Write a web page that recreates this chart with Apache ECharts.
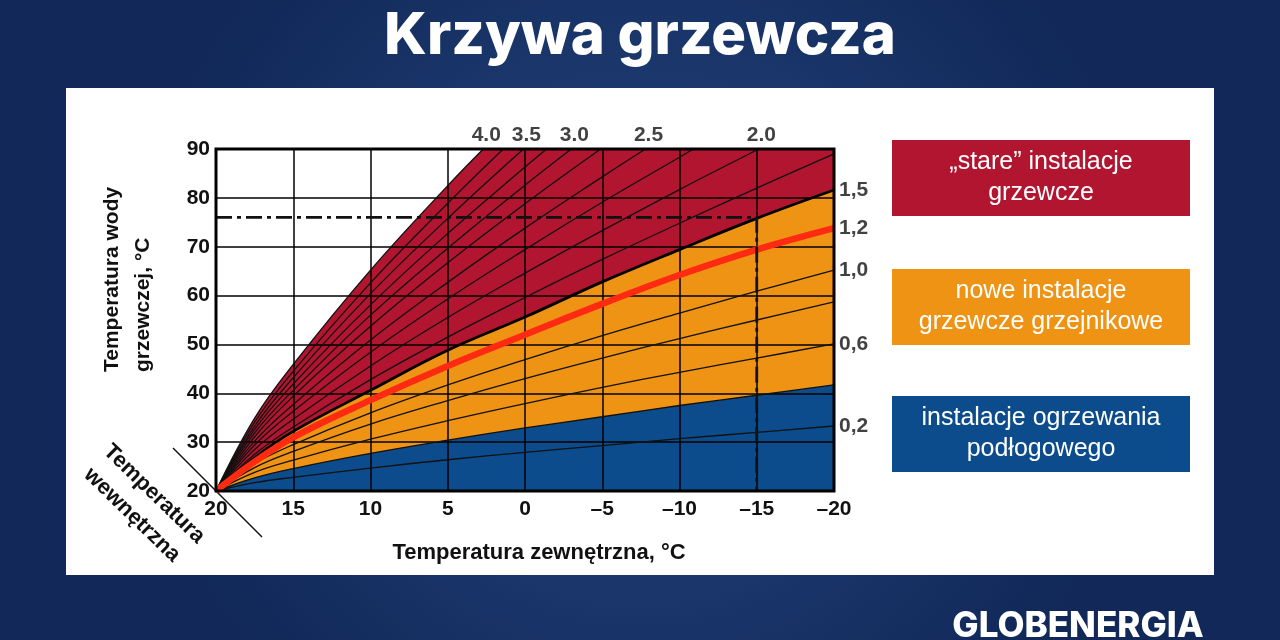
<!DOCTYPE html>
<html><head><meta charset="utf-8">
<script src="https://cdn.jsdelivr.net/npm/echarts@6.0.0/dist/echarts.min.js"></script>
<style>html,body{margin:0;padding:0;background:#152e5c;}#main{width:1280px;height:640px;}</style>
</head><body><div id="main"></div>
<script>
// ---- data ----
const outdoorTemp = [20, 17.5, 15, 10, 5, 0, -5, -10, -15, -20];
const yMin = 20, yMax = 90;
// full-length curves (supply temperature at each outdoorTemp)
const curve02  = [20, 21.7, 22.8, 24.7, 26.4, 27.9, 29.3, 30.7, 32.0, 33.3];
const curve04  = [20, 22.7, 24.6, 27.7, 30.4, 32.9, 35.2, 37.5, 39.6, 41.7];
const curve06  = [20, 23.8, 26.3, 30.6, 34.4, 37.9, 41.2, 44.3, 47.2, 50.1];
const curve08  = [20, 24.8, 28.1, 33.7, 38.5, 43.0, 47.2, 51.2, 55.0, 58.7];
const curve10  = [20, 25.6, 29.5, 36.0, 41.7, 46.9, 51.8, 56.4, 60.9, 65.2];
const curve12  = [20, 26.0, 31.0, 38.6, 45.6, 52.0, 58.3, 64.2, 69.4, 73.8];
const curve15  = [20, 26.8, 32.2, 40.6, 48.8, 55.6, 62.8, 69.4, 75.8, 81.6];
const curve175 = [20, 27.5, 33.1, 42.8, 51.5, 59.6, 67.4, 74.8, 82.0, 89.0];
// steep curves: values until they leave the chart, then outdoor temp where they reach 90
const curve20  = [20, 28.5, 34.7, 45.6, 55.5, 64.6, 73.3, 81.7, 89.8]; const hit20 = -15.1;
const curve225 = [20, 29.4, 36.3, 48.4, 59.3, 69.4, 79.1, 88.3];       const hit225 = -10.9;
const curve25  = [20, 30.2, 37.7, 50.9, 62.7, 73.8, 84.3];             const hit25 = -7.8;
const curve275 = [20, 31.1, 39.4, 53.7, 66.7, 78.8];                   const hit275 = -4.9;
const curve30  = [20, 31.9, 40.6, 56.0, 69.7, 82.6];                   const hit30 = -3.0;
const curve325 = [20, 32.6, 41.9, 58.1, 72.7, 86.3];                   const hit325 = -1.4;
const curve35  = [20, 33.3, 43.2, 60.4, 75.8];                         const hit35 = 0.1;
const curve375 = [20, 34.1, 44.5, 62.6, 78.9];                         const hit375 = 1.4;
const curve40  = [20, 34.9, 45.9, 65.2, 82.5];                         const hit40 = 2.7;
// design point (dash-dot)
const designOutdoor = -15, designSupply = 76;
// labels
const rightLabelNames = ['1,5', '1,2', '1,0', '0,6', '0,2'];
const topLabelNames = ['4.0', '3.5', '3.0', '2.5', '2.0'];
const legendTexts = ['\u201Estare\u201D instalacje\ngrzewcze', 'nowe instalacje\ngrzewcze grzejnikowe', 'instalacje ogrzewania\npod\u0142ogowego'];

// ---- styling ----
const F = '"Liberation Sans", Arial, sans-serif';
const RED = '#B1152F', ORANGE = '#EE9313', BLUE = '#0C4C8C';

function pairs(vals, hitX) {
  const p = vals.map((v, i) => [outdoorTemp[i], v]);
  if (hitX != null) p.push([hitX, yMax]);
  return p;
}
function areaSeries(data, color, z, smooth) {
  return { type: 'line', data, z, symbol: 'none', smooth: smooth, silent: true,
    lineStyle: { width: 0, opacity: 0 }, areaStyle: { color, opacity: 1, origin: 'start' } };
}
function lineSeries(data, width, color, z) {
  return { type: 'line', data, z, symbol: 'none', smooth: 0.4, silent: true,
    lineStyle: { width, color } };
}

const thin = [
  pairs(curve02), pairs(curve04), pairs(curve06), pairs(curve08), pairs(curve10), pairs(curve175),
  pairs(curve20, hit20), pairs(curve225, hit225), pairs(curve25, hit25), pairs(curve275, hit275),
  pairs(curve30, hit30), pairs(curve325, hit325), pairs(curve35, hit35), pairs(curve375, hit375), pairs(curve40, hit40)
];

// red envelope: under the steepest curve and along the top edge (one polygon, no seam)
const redEnvelope = pairs(curve40, hit40).concat([[-20, yMax]]);

const series = [
  areaSeries(redEnvelope, RED, 1, false),
  areaSeries(pairs(curve40, hit40), RED, 1, 0.4),
  areaSeries(pairs(curve15), ORANGE, 2, 0.4),
  areaSeries(pairs(curve04), BLUE, 3, 0.4),
];
thin.forEach(d => series.push(lineSeries(d, 1.3, '#111', 5)));
series.push(lineSeries(pairs(curve15), 2.8, '#000', 5));
series.push(lineSeries(pairs(curve12), 6.5, '#FF2A12', 6));
series.push({ type: 'line', z: 6, symbol: 'none', silent: true,
  data: [[20, designSupply], [designOutdoor, designSupply], [designOutdoor, yMin]],
  lineStyle: { width: 2.8, color: '#111', type: [16, 5, 4, 5] } });

const rightEnds = [curve15, curve12, curve10, curve06, curve02].map(c => c[c.length - 1]);
const topHits = [hit40, hit35, hit30, hit25, hit20];
series.push({ type: 'scatter', z: 8, clip: false, symbolSize: 0, silent: true,
  data: rightEnds.map((v, i) => [-20, v, rightLabelNames[i]]),
  label: { show: true, position: 'right', distance: 5, formatter: p => p.value[2],
    color: '#111', fontFamily: F, fontWeight: 'bold', fontSize: 21 } });
series.push({ type: 'scatter', z: 8, clip: false, symbolSize: 0, silent: true,
  data: topHits.map((x, i) => [x, yMax, topLabelNames[i]]),
  label: { show: true, position: 'top', distance: 3, offset: [3, 0], formatter: p => p.value[2],
    color: '#111', fontFamily: F, fontWeight: 'bold', fontSize: 21 } });

const legendY = [140, 269, 396], legendColors = [RED, ORANGE, BLUE];
const graphic = [
  { type: 'rect', z: -10, shape: { x: 66, y: 88, width: 1148, height: 487 }, style: { fill: '#FFFFFF' } },
  { type: 'text', x: 640, y: 37, style: { text: 'Krzywa grzewcza', fill: '#fff', font: '800 58px Inter, "Open Sans", sans-serif', textAlign: 'center', textVerticalAlign: 'middle' } },
  { type: 'text', x: 1078, y: 626, style: { text: 'GLOBENERGIA', fill: '#fff', font: '800 35px Inter, "Open Sans", sans-serif', textAlign: 'center', textVerticalAlign: 'middle' } },
  { type: 'text', x: 112, y: 372, rotation: Math.PI / 2, style: { text: 'Temperatura wody', fill: '#111', font: 'bold 21px ' + F, textAlign: 'left', textVerticalAlign: 'middle' } },
  { type: 'text', x: 143, y: 372, rotation: Math.PI / 2, style: { text: 'grzewczej, \u00B0C', fill: '#111', font: 'bold 21px ' + F, textAlign: 'left', textVerticalAlign: 'middle' } },
  { type: 'line', shape: { x1: 173, y1: 448, x2: 262, y2: 537 }, style: { stroke: '#111', lineWidth: 1.5 } },
  { type: 'text', x: 154, y: 494, rotation: -0.77, style: { text: 'Temperatura', fill: '#111', font: 'bold 22px ' + F, textAlign: 'center', textVerticalAlign: 'middle' } },
  { type: 'text', x: 132, y: 515, rotation: -0.77, style: { text: 'wewn\u0119trzna', fill: '#111', font: 'bold 22px ' + F, textAlign: 'center', textVerticalAlign: 'middle' } },
];
legendTexts.forEach((t, i) => {
  graphic.push({ type: 'rect', shape: { x: 892, y: legendY[i], width: 298, height: 76 }, style: { fill: legendColors[i] } });
  graphic.push({ type: 'text', x: 1041, y: legendY[i] + 38, style: { text: t, fill: '#fff', font: '25px ' + F, textAlign: 'center', textVerticalAlign: 'middle', lineHeight: 31 } });
});

const chart = echarts.init(document.getElementById('main'));
chart.setOption({
  animation: false,
  backgroundColor: { type: 'radial', x: 0.5, y: 0.5, r: 0.8, colorStops: [{ offset: 0, color: '#24467f' }, { offset: 1, color: '#112858' }] },
  grid: { left: 216, top: 149, width: 618, height: 342, show: true, borderColor: '#000', borderWidth: 3, backgroundColor: 'transparent', z: 7 },
  xAxis: { type: 'value', inverse: true, min: -20, max: 20, interval: 5, z: 4,
    axisLine: { show: false }, axisTick: { show: false },
    splitLine: { show: true, lineStyle: { color: '#000', width: 1.5 } },
    axisLabel: { margin: 8, color: '#111', fontFamily: F, fontWeight: 'bold', fontSize: 21,
      formatter: v => v < 0 ? '\u2013' + Math.abs(v) : String(v) },
    name: 'Temperatura zewn\u0119trzna, \u00B0C', nameLocation: 'middle', nameGap: 51,
    nameTextStyle: { color: '#111', fontFamily: F, fontWeight: 'bold', fontSize: 22, padding: [0, 0, 0, 28] } },
  yAxis: { type: 'value', min: yMin, max: yMax, interval: 10, z: 4,
    axisLine: { show: false }, axisTick: { show: false },
    splitLine: { show: true, lineStyle: { color: '#000', width: 1.5 } },
    axisLabel: { margin: 6, color: '#111', fontFamily: F, fontWeight: 'bold', fontSize: 21 } },
  graphic,
  series
});
</script></body></html>
